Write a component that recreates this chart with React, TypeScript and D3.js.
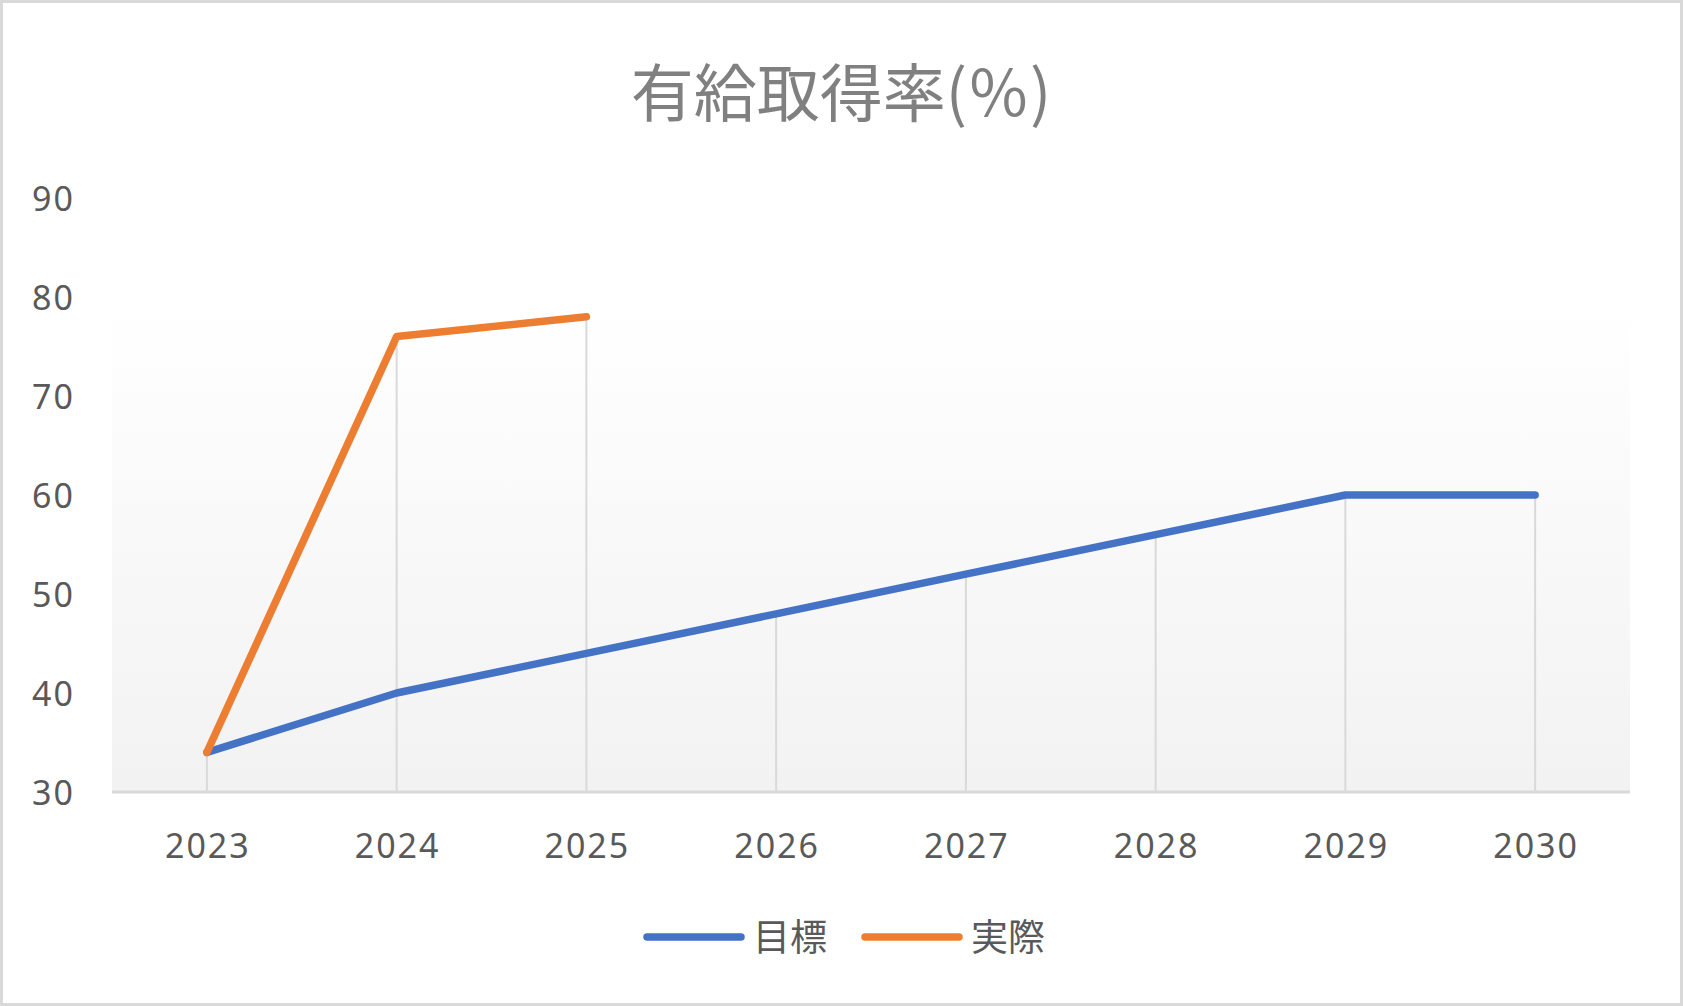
import * as d3 from "d3";

const years: string[] = ["2023", "2024", "2025", "2026", "2027", "2028", "2029", "2030"];
const targetValues: (number | null)[] = [34, 40, 44, 48, 52, 56, 60, 60];
const actualValues: (number | null)[] = [34, 76, 78, null, null, null, null, null];
const yTicks: number[] = [30, 40, 50, 60, 70, 80, 90];

const seriesNames = ["目標", "実際"];
const seriesColors = ["#4472c4", "#ed7d31"];

const FONT = "'Noto Sans CJK JP', 'Noto Sans', sans-serif";
const NUM_FONT = "'Noto Sans', 'Open Sans', sans-serif";

function LineChart() {
    const width = 1683;
    const height = 1006;
    const plot = { left: 112, right: 1630, top: 198, bottom: 792 };

    //----------------------------
    // Scales
    //----------------------------
    const x = d3.scaleBand<string>().domain(years).range([plot.left, plot.right]);
    const cx = (d: string) => (x(d) ?? 0) + x.bandwidth() / 2;
    const y = d3.scaleLinear().domain([30, 90]).range([plot.bottom, plot.top]);

    const series = [targetValues, actualValues];
    const line = d3
        .line<number | null>()
        .defined((d) => d !== null)
        .x((_, i) => cx(years[i]))
        .y((d) => y(d as number));

    // drop lines go from the highest point down to the axis
    const dropTops = years.map((_, i) => d3.max(series, (s) => s[i] ?? undefined) ?? 30);

    return (
        <svg
            width={width}
            height={height}
            style={{ position: "absolute", left: 0, top: 0, display: "block", background: "#fff" }}
        >
            <defs>
                <linearGradient id="plotFill" x1="0" y1="0" x2="0" y2="1">
                    <stop offset="0" stopColor="#ffffff" />
                    <stop offset="1" stopColor="#f2f2f2" />
                </linearGradient>
            </defs>
            <rect x={1.5} y={1.5} width={width - 3} height={height - 3} fill="#fff" stroke="#d9d9d9" strokeWidth={3} />

            <text x={841} y={88} textAnchor="middle" dominantBaseline="central" fontFamily={FONT} fontSize={63} fill="#808080">
                有給取得率(％)
            </text>

            {/* plot area */}
            <rect x={plot.left} y={302} width={plot.right - plot.left} height={plot.bottom - 302} fill="url(#plotFill)" />

            {/* drop lines */}
            <g stroke="#d9d9d9" strokeWidth={2}>
                {years.map((yr, i) => (
                    <line key={yr} x1={cx(yr)} x2={cx(yr)} y1={y(dropTops[i])} y2={plot.bottom} />
                ))}
            </g>

            {/* x axis */}
            <line x1={plot.left} x2={plot.right} y1={plot.bottom} y2={plot.bottom} stroke="#d9d9d9" strokeWidth={3} />
            <g fontFamily={NUM_FONT} fontSize={34} fill="#595959" textAnchor="middle" letterSpacing={2}>
                {years.map((yr) => (
                    <text key={yr} x={cx(yr) + 1} y={845} dominantBaseline="central">
                        {yr}
                    </text>
                ))}
            </g>

            {/* y axis labels */}
            <g fontFamily={NUM_FONT} fontSize={34} fill="#595959" textAnchor="end" letterSpacing={2}>
                {yTicks.map((t) => (
                    <text key={t} x={75} y={y(t)} dominantBaseline="central">
                        {t}
                    </text>
                ))}
            </g>

            {/* series */}
            {series.map((s, k) => (
                <path
                    key={seriesNames[k]}
                    d={line(s) ?? ""}
                    fill="none"
                    stroke={seriesColors[k]}
                    strokeWidth={7.5}
                    strokeLinecap="round"
                    strokeLinejoin="round"
                />
            ))}

            {/* legend */}
            <g fontFamily={FONT} fontSize={37} fill="#595959">
                {seriesNames.map((name, k) => {
                    const x0 = k === 0 ? 647 : 865;
                    return (
                        <g key={name}>
                            <line x1={x0} x2={x0 + 94} y1={937} y2={937} stroke={seriesColors[k]} strokeWidth={7.5} strokeLinecap="round" />
                            <text x={x0 + 106} y={935} dominantBaseline="central">
                                {name}
                            </text>
                        </g>
                    );
                })}
            </g>
        </svg>
    );
}

export default function App() {
    return (
        <div>
            <LineChart />
        </div>
    );
}
